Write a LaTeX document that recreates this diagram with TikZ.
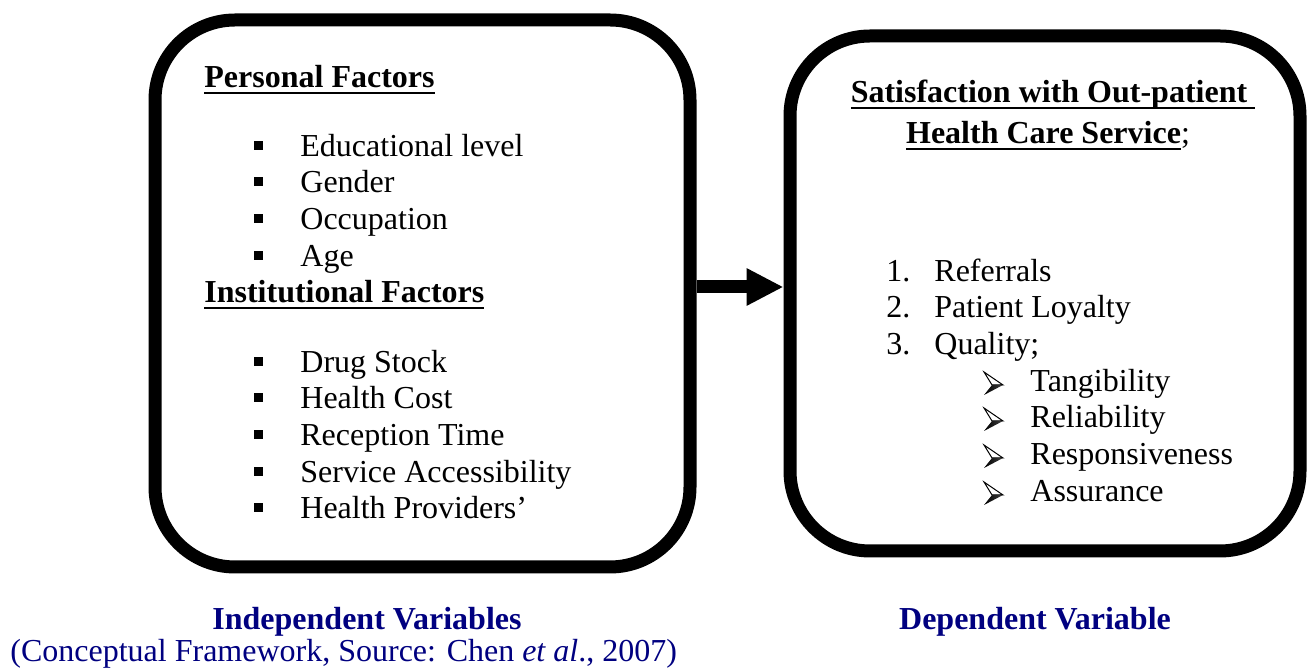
\documentclass[tikz,border=0pt]{standalone}
\usepackage{fontspec}
\setmainfont{Liberation Serif}
\usetikzlibrary{arrows.meta}
\definecolor{capnavy}{RGB}{0,0,128}
% underline at a fixed depth, whatever the descenders
\newcommand\ulbox[1]{\begingroup\setbox0\hbox{#1}\rlap{\rule[-3pt]{\wd0}{1.1pt}}\box0\endgroup}
\newcommand\sqbul{\makebox[23pt][l]{\rule[3.5pt]{4.25pt}{4.25pt}}}
\newcommand\numbul[1]{\makebox[24pt][l]{#1.}}

\begin{document}
\begin{tikzpicture}[x=0.5pt,y=-0.5pt,
  panel/.style={draw, line width=6.5pt, rounded corners=40pt, inner sep=0pt},
  itemline/.style={anchor=base west, inner sep=0pt, font=\fontsize{16}{19}\selectfont},
  headline/.style={itemline, font=\fontsize{16}{19}\selectfont\bfseries},
  caption/.style={anchor=base, inner sep=0pt, text=capnavy, font=\fontsize{16}{19}\selectfont\bfseries},
  link/.style={line width=6.5pt, -{Triangle[length=18.5pt,width=17.5pt]}},
  arrowbullet/.pic={
    % top-lit arrowhead: outlined upper half, dark lower half
    \filldraw[line width=0.5pt, fill=white] (0,-20) -- (19,-7) -- (8,-7) -- cycle;
    \shade[left color=black, right color=black!75] (8,-7) -- (19,-7) -- (0,3) -- cycle;
  }]

\useasboundingbox (0,0) rectangle (1307,672);

% the two panels
\node[panel, minimum width=267.5pt, minimum height=273.5pt] (indep) at (422.5,293.5) {};
\node[panel, minimum width=255pt, minimum height=257.5pt] (dep) at (1045,293.5) {};

% connector between them
\draw[link] ([yshift=3.25pt]indep.east) -- ([yshift=3.25pt]dep.west);

% independent variables
\node[headline] (hpers) at (204,88) {\ulbox{Personal Factors}};
\node[itemline] (p1) at (254,157) {\sqbul Educational level};
\node[itemline] (p2) at (254,193) {\sqbul Gender};
\node[itemline] (p3) at (254,230) {\sqbul Occupation};
\node[itemline] (p4) at (254,267) {\sqbul Age};
\node[headline] (hinst) at (204,303) {\ulbox{Institutional Factors}};
\node[itemline] (i1) at (254,373) {\sqbul Drug Stock};
\node[itemline] (i2) at (254,409) {\sqbul Health Cost};
\node[itemline] (i3) at (254,446) {\sqbul Reception Time};
\node[itemline] (i4) at (254,483) {\sqbul Service Accessibility};
\node[itemline] (i5) at (254,519) {\sqbul Health Providers’};

% dependent variable
\node[headline, anchor=base] (hsat1) at (1053,103) {\ulbox{Satisfaction with Out-patient\ }};
\node[itemline, anchor=base] (hsat2) at (1048,144) {\textbf{\ulbox{Health Care Service}};};
\node[itemline] (d1) at (886,282) {\numbul{1}Referrals};
\node[itemline] (d2) at (886,318) {\numbul{2}Patient Loyalty};
\node[itemline] (d3) at (886,355) {\numbul{3}Quality;};
\foreach \yy/\word [count=\k] in {392/Tangibility, 428/Reliability, 465/Responsiveness, 502/Assurance} {
  \pic at (984,\yy) {arrowbullet};
  \node[itemline] (q\k) at (1030,\yy) {\word};
}

% captions
\node[caption] (cindep) at (367,630) {Independent Variables};
\node[caption] (cdep) at (1035,630) {Dependent Variable};
\node[itemline, text=capnavy] (csrc) at (10,662) {(Conceptual Framework, Source: Chen \textit{et al}., 2007)};
\end{tikzpicture}
\end{document}
